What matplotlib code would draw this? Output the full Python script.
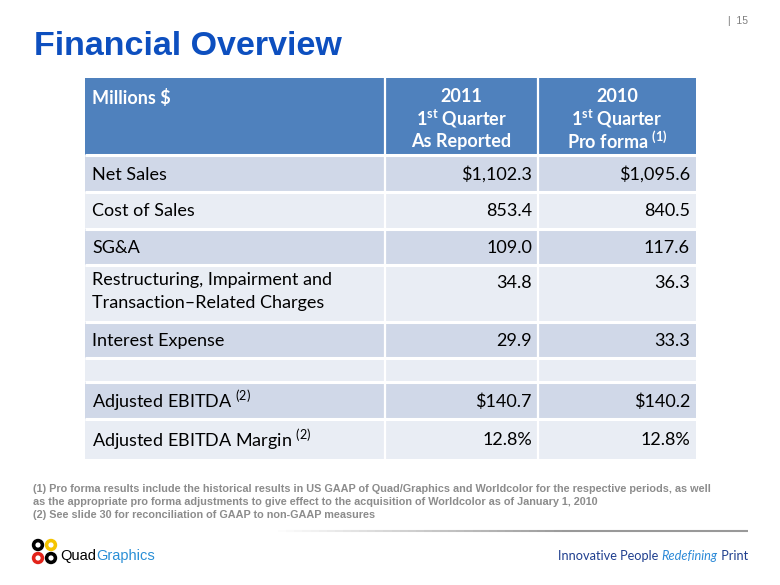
import matplotlib
matplotlib.use("Agg")
import matplotlib.pyplot as plt
from matplotlib.patches import Rectangle, Circle
from matplotlib.collections import LineCollection
import numpy as np

TITLE = "Financial Overview"
PAGE = "|  15"
HEADER_LABEL = "Millions $"
COL_YEARS = ["2011", "2010"]
COL_SUB = ["As Reported", "Pro forma"]
ROW_LABELS = [
    "Net Sales",
    "Cost of Sales",
    "SG&A",
    "Restructuring, Impairment and\nTransaction\u2013Related Charges",
    "Interest Expense",
    "",
    "Adjusted EBITDA",
    "Adjusted EBITDA Margin",
]
ROW_NOTES = ["", "", "", "", "", "", "(2)", "(2)"]
Q1_2011 = [1102.3, 853.4, 109.0, 34.8, 29.9, None, 140.7, 12.8]
Q1_2010 = [1095.6, 840.5, 117.6, 36.3, 33.3, None, 140.2, 12.8]
ROW_UNITS = ["$", "", "", "", "", "", "$", "%"]
FOOTNOTES = [
    "(1) Pro forma results include the historical results in US GAAP of Quad/Graphics and Worldcolor for the respective periods, as well",
    "as the appropriate pro forma adjustments to give effect to the acquisition of Worldcolor as of January 1, 2010",
    "(2) See slide 30 for reconciliation of GAAP to non-GAAP measures",
]
TAGLINE = [("Innovative People ", "normal"), ("Redefining", "italic"), (" Print", "normal")]

TABLE_FONT = "Lato"
SANS = "Liberation Sans"

HEADER_BLUE = "#4F81BD"
ROW_DARK = "#D0D8E8"
ROW_LIGHT = "#E9EDF4"


def fmt(value, unit):
    if value is None:
        return ""
    if unit == "$":
        return f"${value:,.1f}"
    if unit == "%":
        return f"{value:.1f}%"
    return f"{value:,.1f}"


def text_width(ax, artist, renderer):
    bb = artist.get_window_extent(renderer)
    inv = ax.transData.inverted()
    return inv.transform((bb.x1, 0))[0] - inv.transform((bb.x0, 0))[0]


plt.rcParams["mathtext.fontset"] = "custom"
plt.rcParams["mathtext.rm"] = TABLE_FONT
plt.rcParams["mathtext.bf"] = TABLE_FONT + ":bold"

fig = plt.figure(figsize=(7.8, 5.85), dpi=100)
ax = fig.add_axes([0, 0, 1, 1])
ax.set_xlim(0, 780)
ax.set_ylim(585, 0)
ax.axis("off")

# title
ax.text(34, 55, TITLE, fontsize=24.5, fontweight="bold", color="#0D4FBF",
        family=SANS, va="baseline", ha="left")
ax.text(748, 24, PAGE, fontsize=7.5, color="#7F7F7F", family=SANS,
        ha="right", va="baseline")

# table geometry
col_x = [85, 385, 538, 696]
row_y = [78, 155, 192, 229, 265, 322, 358, 382, 419, 459]

ax.add_patch(Rectangle((col_x[0], row_y[0]), col_x[-1] - col_x[0], row_y[1] - row_y[0],
                       facecolor=HEADER_BLUE, edgecolor="none"))
for i in range(len(ROW_LABELS)):
    color = ROW_DARK if i % 2 == 0 else ROW_LIGHT
    ax.add_patch(Rectangle((col_x[0], row_y[i + 1]), col_x[-1] - col_x[0],
                           row_y[i + 2] - row_y[i + 1], facecolor=color, edgecolor="none"))

# white grid lines
for y in row_y[1:-1]:
    ax.plot([col_x[0], col_x[-1]], [y, y], color="white", linewidth=2.2, solid_capstyle="butt")
for x in col_x[1:-1]:
    ax.plot([x, x], [row_y[0], row_y[-1]], color="white", linewidth=1.6, solid_capstyle="butt")

fs = 13
# header text
ax.text(92, 98, HEADER_LABEL, fontsize=fs, fontweight="bold", color="white",
        family=TABLE_FONT, va="center", ha="left")
for j, (year, sub) in enumerate(zip(COL_YEARS, COL_SUB)):
    cx = (col_x[j + 1] + col_x[j + 2]) / 2
    ax.text(cx, 97, year, fontsize=fs, fontweight="bold", color="white",
            family=TABLE_FONT, va="center", ha="center")
    ax.text(cx, 119, r"1$^{\mathbf{st}}$ Quarter", fontsize=fs, fontweight="bold", color="white",
            family=TABLE_FONT, va="center", ha="center")
    label = sub if j == 0 else sub + r" $^{\mathbf{(1)}}$"
    ax.text(cx, 141, label, fontsize=fs, fontweight="bold", color="white",
            family=TABLE_FONT, va="center", ha="center")

# body rows
for i, label in enumerate(ROW_LABELS):
    top, bottom = row_y[i + 1], row_y[i + 2]
    two_line = "\n" in label
    ty = top + 18 if two_line else (top + bottom) / 2 + 1
    text = label
    if ROW_NOTES[i]:
        text = label + r" $^{\mathrm{" + ROW_NOTES[i] + "}}$"
    ax.text(92, top + 7 if two_line else ty, text, fontsize=fs, color="black",
            family=TABLE_FONT, va="top" if two_line else "center", ha="left",
            linespacing=1.55)
    for j, vals in enumerate([Q1_2011, Q1_2010]):
        ax.text(col_x[j + 2] - 6, ty, fmt(vals[i], ROW_UNITS[i]), fontsize=fs, color="black",
                family=TABLE_FONT, va="center", ha="right")

# footnotes
for k, line in enumerate(FOOTNOTES):
    ax.text(33, 492 + k * 13, line, fontsize=7.85, fontweight="bold", color="#8C8C8C",
            family=SANS, va="baseline", ha="left")

# fading rule
xs = np.linspace(270, 748, 60)
segs = [[(xs[i], 531), (xs[i + 1], 531)] for i in range(len(xs) - 1)]
alphas = np.clip(np.linspace(0, 1.6, len(segs)), 0, 1)
lc = LineCollection(segs, colors=[(0.6, 0.6, 0.6, a) for a in alphas], linewidths=1.5)
ax.add_collection(lc)

fig.canvas.draw()
renderer = fig.canvas.get_renderer()

# logo
logo = [(38, 545, "black"), (51, 545, "#F5C400"), (38, 558, "#E2231A"), (51, 558, "black")]
for cx, cy, c in logo:
    ax.add_patch(Circle((cx, cy), 6.2, facecolor=c, edgecolor="none"))
    ax.add_patch(Circle((cx, cy), 2.6, facecolor="white", edgecolor="none"))
quad = ax.text(60, 560, "Quad", fontsize=10.5, color="black", family=SANS,
               va="baseline", ha="left")
qw = text_width(ax, quad, renderer)
ax.text(60 + qw, 560, "Graphics", fontsize=10.5, color="#2A8FD6", family=SANS,
        va="baseline", ha="left")

# tagline, right-aligned at x=748
parts = []
for s, style in TAGLINE:
    color = "#2E8BD8" if style == "italic" else "#1F3F8F"
    parts.append(ax.text(0, 560, s, fontsize=9.2, color=color, family=TABLE_FONT,
                         style=style, va="baseline", ha="left"))
widths = [text_width(ax, p, renderer) for p in parts]
x = 748 - sum(widths)
for p, w in zip(parts, widths):
    p.set_x(x)
    x += w

fig.savefig("out.png", dpi=100)
